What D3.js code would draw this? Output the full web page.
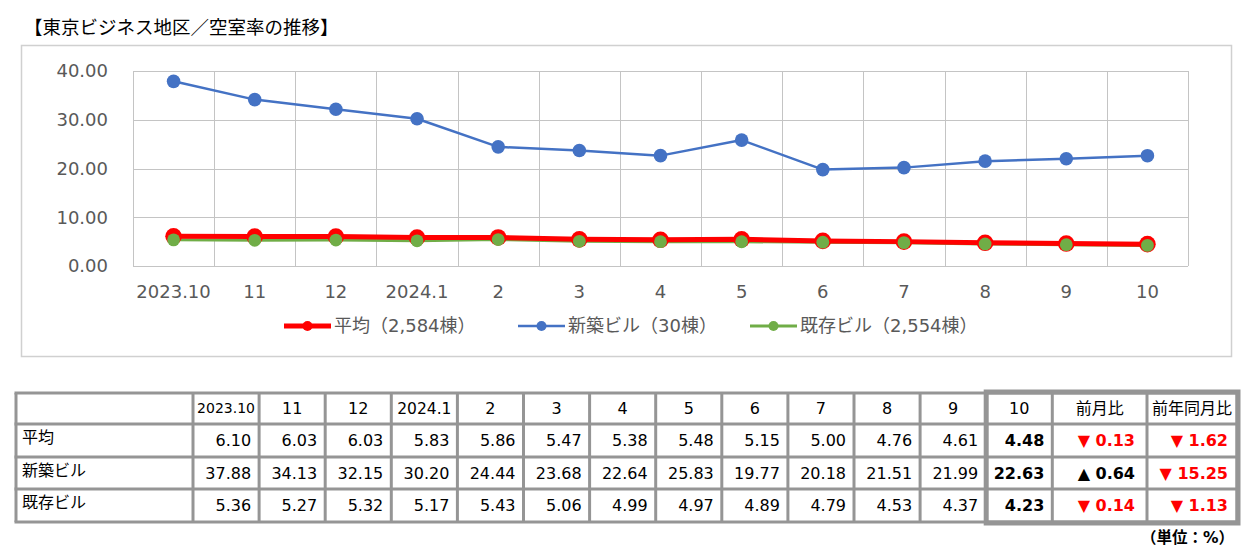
<!DOCTYPE html>
<html>
<head>
<meta charset="utf-8">
<script src="https://cdn.jsdelivr.net/npm/d3@7"></script>
<style>
  html, body { margin: 0; padding: 0; background: #fff; }
  svg { display: block; }
  text { font-family: "DejaVu Sans", "Noto Sans CJK JP", sans-serif; }
</style>
</head>
<body>
<div id="chart"></div>
<script>
// Months shown on the axis and in the table
const categories = ['2023.10', '11', '12', '2024.1', '2', '3', '4', '5', '6', '7', '8', '9', '10'];

// Vacancy rate (%) per series
const avgRate = [6.10, 6.03, 6.03, 5.83, 5.86, 5.47, 5.38, 5.48, 5.15, 5.00, 4.76, 4.61, 4.48];
const newRate = [37.88, 34.13, 32.15, 30.20, 24.44, 23.68, 22.64, 25.83, 19.77, 20.18, 21.51, 21.99, 22.63];
const oldRate = [5.36, 5.27, 5.32, 5.17, 5.43, 5.06, 4.99, 4.97, 4.89, 4.79, 4.53, 4.37, 4.23];

const yTicks = [0, 10, 20, 30, 40];

const seriesNames = ['平均（2,584棟）', '新築ビル（30棟）', '既存ビル（2,554棟）'];
const rowLabels = ['平均', '新築ビル', '既存ビル'];

const W = 1258, H = 552;

const svg = d3.select('#chart')
    .append('svg')
    .attr('width', W)
    .attr('height', H);

svg.append('rect').attr('width', W).attr('height', H).attr('fill', '#fff');

// Title
svg.append('text')
    .attr('x', 24)
    .attr('y', 28)
    .attr('dy', '0.35em')
    .attr('font-size', '18.5px')
    .attr('fill', '#000')
    .text('【東京ビジネス地区／空室率の推移】');

// Chart frame
svg.append('rect')
    .attr('x', 21.5).attr('y', 45.5)
    .attr('width', 1210).attr('height', 311)
    .attr('fill', 'none')
    .attr('stroke', '#d0d0d0')
    .attr('stroke-width', 1.5);

const plot = { left: 133, right: 1188, top: 71, bottom: 266 };

const x = d3.scaleBand()
    .domain(categories)
    .range([plot.left, plot.right])
    .paddingInner(0).paddingOuter(0);

const y = d3.scaleLinear()
    .domain([0, 40])
    .range([plot.bottom, plot.top]);

const cx = d => x(d) + x.bandwidth() / 2;

// Gridlines
const grid = svg.append('g').attr('stroke', '#c4c4c4').attr('stroke-width', 1);
grid.selectAll('line.h')
    .data(yTicks)
    .join('line')
    .attr('x1', plot.left).attr('x2', plot.right)
    .attr('y1', d => Math.round(y(d)) + 0.5).attr('y2', d => Math.round(y(d)) + 0.5);
grid.selectAll('line.v')
    .data(d3.range(categories.length + 1))
    .join('line')
    .attr('x1', i => Math.round(plot.left + i * x.bandwidth()) + 0.5)
    .attr('x2', i => Math.round(plot.left + i * x.bandwidth()) + 0.5)
    .attr('y1', plot.top).attr('y2', plot.bottom);

// Y axis labels
svg.append('g')
    .selectAll('text')
    .data(yTicks)
    .join('text')
    .attr('x', 108)
    .attr('y', d => y(d))
    .attr('dy', '0.35em')
    .attr('text-anchor', 'end')
    .attr('font-size', '18px')
    .attr('fill', '#595959')
    .text(d3.format('.2f'));

// X axis labels
svg.append('g')
    .selectAll('text')
    .data(categories)
    .join('text')
    .attr('x', d => cx(d))
    .attr('y', 292)
    .attr('dy', '0.35em')
    .attr('text-anchor', 'middle')
    .attr('font-size', '18px')
    .attr('fill', '#595959')
    .text(d => d);

const series = [
    { values: avgRate, color: '#FF0000', width: 5, r: 8.3 },
    { values: newRate, color: '#4472C4', width: 2.5, r: 6.8 },
    { values: oldRate, color: '#70AD47', width: 3, r: 6.4 },
];

const line = d3.line()
    .x((d, i) => cx(categories[i]))
    .y(d => y(d));

// Lines: green under red, blue on its own
[series[2], series[0], series[1]].forEach(s => {
    svg.append('path')
        .datum(s.values)
        .attr('d', line)
        .attr('fill', 'none')
        .attr('stroke', s.color)
        .attr('stroke-width', s.width)
        .attr('stroke-linejoin', 'round');
});

// Markers
series.forEach(s => {
    svg.append('g')
        .selectAll('circle')
        .data(s.values)
        .join('circle')
        .attr('cx', (d, i) => cx(categories[i]))
        .attr('cy', d => y(d))
        .attr('r', s.r)
        .attr('fill', s.color);
});

// Legend
const legendX = [284, 518, 750];
const legend = svg.append('g');
series.forEach((s, i) => {
    const g = legend.append('g').attr('transform', `translate(${legendX[i]},326)`);
    g.append('line')
        .attr('x1', 0).attr('x2', 47)
        .attr('stroke', s.color)
        .attr('stroke-width', s.width);
    g.append('circle')
        .attr('cx', 23.5)
        .attr('r', 5)
        .attr('fill', s.color);
    g.append('text')
        .attr('x', 50)
        .attr('dy', '0.35em')
        .attr('font-size', '18px')
        .attr('fill', '#595959')
        .text(seriesNames[i]);
});

// ---- Table ----
const tableRows = [avgRate, newRate, oldRate];
const n = categories.length;

const colEdges = [16, 193];
for (let i = 1; i <= n; i++) colEdges.push(193 + i * 66.1);
colEdges.push(1147, 1237);

const rowEdges = [393, 424, 457, 489, 522];

const headers = categories.concat(['前月比', '前年同月比']);

const table = svg.append('g');

// cell grid
const border = '#959595';
table.selectAll('line.col')
    .data(colEdges)
    .join('line')
    .attr('x1', d => d).attr('x2', d => d)
    .attr('y1', rowEdges[0]).attr('y2', rowEdges[rowEdges.length - 1])
    .attr('stroke', border).attr('stroke-width', 3);
table.selectAll('line.row')
    .data(rowEdges)
    .join('line')
    .attr('x1', colEdges[0] - 1.5).attr('x2', colEdges[colEdges.length - 1] + 1.5)
    .attr('y1', d => d).attr('y2', d => d)
    .attr('stroke', border).attr('stroke-width', 3);

// thick box around latest month and change columns
table.append('rect')
    .attr('x', colEdges[n])
    .attr('y', rowEdges[0] - 1)
    .attr('width', colEdges[colEdges.length - 1] - colEdges[n] + 1)
    .attr('height', rowEdges[rowEdges.length - 1] - rowEdges[0] + 2)
    .attr('fill', 'none')
    .attr('stroke', border)
    .attr('stroke-width', 5);

const rowMid = i => (rowEdges[i] + rowEdges[i + 1]) / 2;

// header texts
headers.forEach((h, j) => {
    let size = '16px';
    if (h === '2023.10') size = '14px';
    else if (h === '2024.1') size = '15.5px';
    table.append('text')
        .attr('x', (colEdges[j + 1] + colEdges[j + 2]) / 2)
        .attr('y', rowMid(0))
        .attr('dy', '0.35em')
        .attr('text-anchor', 'middle')
        .attr('font-size', size)
        .attr('fill', '#000')
        .text(h);
});

const fmt = d3.format('.2f');

tableRows.forEach((vals, r) => {
    const ym = rowMid(r + 1);
    table.append('text')
        .attr('x', 22)
        .attr('y', ym - 3)
        .attr('dy', '0.35em')
        .attr('font-size', '16px')
        .attr('fill', '#000')
        .text(rowLabels[r]);

    vals.forEach((v, j) => {
        table.append('text')
            .attr('x', colEdges[j + 2] - 8)
            .attr('y', ym)
            .attr('dy', '0.35em')
            .attr('text-anchor', 'end')
            .attr('font-size', '16px')
            .attr('font-weight', j === n - 1 ? 'bold' : 'normal')
            .attr('fill', '#000')
            .text(fmt(v));
    });

    const mom = vals[n - 1] - vals[n - 2];
    const yoy = vals[n - 1] - vals[0];
    [[mom, 12], [yoy, 9]].forEach(([d, pad], k) => {
        table.append('text')
            .attr('x', colEdges[n + 2 + k] - pad)
            .attr('y', ym)
            .attr('dy', '0.35em')
            .attr('text-anchor', 'end')
            .attr('font-size', '16px')
            .attr('font-weight', 'bold')
            .attr('fill', d < 0 ? '#FF0000' : '#000')
            .text((d < 0 ? '▼ ' : '▲ ') + fmt(Math.abs(d)));
    });
});

// unit note
svg.append('text')
    .attr('x', 1234)
    .attr('y', 538)
    .attr('dy', '0.35em')
    .attr('text-anchor', 'end')
    .attr('font-size', '15.5px')
    .attr('font-weight', 'bold')
    .attr('fill', '#000')
    .text('（単位：%）');
</script>
</body>
</html>
